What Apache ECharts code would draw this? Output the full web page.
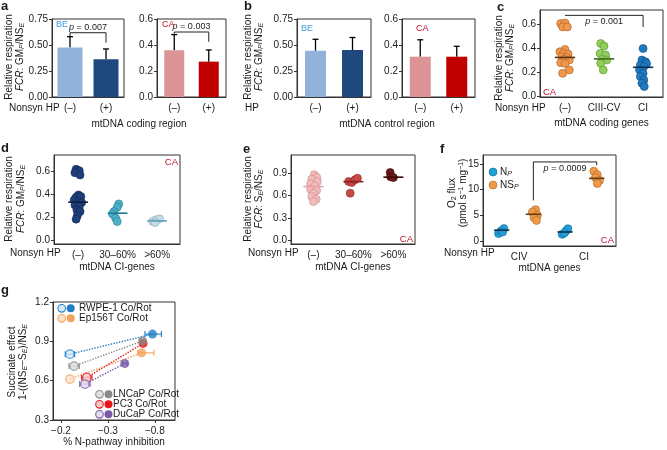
<!DOCTYPE html>
<html>
<head>
<meta charset="utf-8">
<script src="https://cdn.jsdelivr.net/npm/echarts/dist/echarts.min.js"></script>
<style>html,body{margin:0;padding:0;background:#fff}#main{width:667px;height:450px}</style>
</head>
<body>
<div id="main"></div>
<script>
// ---------------- DATA ----------------
// Panel a (mtDNA coding region)
const aCats = ['(–)', '(+)'];
const aBEMean = [0.475, 0.362];
const aBESd = [0.105, 0.10];
const aCAMean = [0.36, 0.272];
const aCASd = [0.12, 0.09];
const aPBE = '0.007';
const aPCA = '0.003';
// Panel b (mtDNA control region)
const bBEMean = [0.445, 0.452];
const bBESd = [0.11, 0.12];
const bCAMean = [0.31, 0.31];
const bCASd = [0.13, 0.08];
// Panel c
const cCats = ['(–)', 'CIII-CV', 'CI'];
const cNegY = [0.606,0.611,0.578,0.578,0.389,0.37,0.356,0.35,0.328,0.322,0.306,0.3,0.278,0.272,0.217,0.189];
const cNegDx = [-0.11,0,-0.06,0.06,0,-0.13,-0.04,0.08,-0.08,0.04,-0.02,0.11,-0.11,0,0.11,-0.06];
const cMidY = [0.439,0.417,0.356,0.342,0.306,0.3,0.272,0.217];
const cMidDx = [-0.085,0,-0.1,0.04,-0.04,0.07,-0.085,-0.02];
const cCIY = [0.397,0.3,0.286,0.258,0.27,0.245,0.217,0.189,0.161,0.133,0.106,0.078];
const cCIDx = [0,-0.03,0.06,-0.07,0.09,0.02,-0.09,0,-0.07,0.02,-0.03,0.03];
const cMedians = [0.322, 0.31, 0.239];
const cP = '0.001';
// Panel d
const dCats = ['(–)', '30–60%', '>60%'];
const dNegY = [0.615,0.603,0.585,0.565,0.391,0.371,0.377,0.348,0.333,0.325,0.304,0.29,0.26,0.246,0.209,0.18];
const dNegDx = [-0.05,0.03,-0.08,0.05,0.01,-0.05,0.07,-0.1,0.01,0.09,-0.08,0.03,-0.03,0.05,-0.02,-0.05];
const dMidY = [0.313,0.284,0.246,0.226,0.189,0.159];
const dMidDx = [0.03,-0.01,-0.09,-0.13,-0.05,-0.01];
const dHiY = [0.159,0.174,0.183,0.15];
const dHiDx = [-0.11,-0.03,0.06,-0.05];
const dMedians = [0.328, 0.232, 0.165];
// Panel e
const eCats = ['(–)', '30–60%', '>60%'];
const eNegY = [0.876,0.845,0.818,0.787,0.756,0.729,0.684,0.667,0.631,0.587,0.551,0.52];
const eNegDx = [0.02,0.08,-0.04,0.1,-0.07,0.04,-0.07,0.08,0,-0.04,0.07,0];
const eMidY = [0.787,0.773,0.81,0.832,0.632];
const eMidDx = [-0.12,-0.04,0.04,0.1,-0.08];
const eHiY = [0.907,0.85,0.84];
const eHiDx = [-0.08,-0.07,0.0];
const eMedians = [0.72, 0.785, 0.845];
// Panel f
const fLabels = ['CIV', 'CI'];
const fLabelPos = [0.55, 2.6];
const fNpCIV = [1.44,1.95,2.42,1.75];
const fNpCIVDx = [-0.1,-0.02,0.07,0.03];
const fNsCIV = [6.1,5.65,5.0,4.55,4.0];
const fNsCIVDx = [0.07,-0.03,0.13,0.02,0.1];
const fNpCI = [1.3,1.95,2.4,1.56];
const fNpCIDx = [-0.09,0.03,0.09,-0.02];
const fNsCI = [13.6,12.9,12.35,11.8,11.2];
const fNsCIDx = [-0.09,0.02,-0.04,0.09,0.02];
const fMedians = [2.1, 5.2, 1.75, 12.2];
const fP = '0.0009';
// Panel g
const gLines = ['RWPE-1', 'Ep156T', 'LNCaP', 'PC3', 'DuCaP'];
const gOpenX = [1.19, 1.19, 1.28, 1.55, 1.51];
const gOpenY = [0.802, 0.612, 0.711, 0.625, 0.574];
const gOpenErr = [0.10, 0, 0.11, 0.11, 0.11];
const gFillX = [2.95, 2.72, 2.74, 2.75, 2.36];
const gFillY = [0.955, 0.812, 0.903, 0.884, 0.731];
const gFillErrLo = [0.16, 0.08, 0.05, 0.05, 0.05];
const gFillErrHi = [0.19, 0.26, 0.05, 0.05, 0.05];
const gXTicks = [1, 2, 3];
const gXLabels = ['−0.2', '−0.3', '−0.8'];

// ---------------- STYLE ----------------
const FONT = "'Liberation Sans', Arial, sans-serif";
const AX = '#333';
const TXT = '#1a1a1a';
const BE_COL = ['#91b3da', '#1f497d'];
const CA_COL = ['#dc9496', '#c00000'];
const CA_RED = '#c0142a';
const BE_BLUE = '#3d9ad6';
const G_COL = ['#1f7fc8', '#f4a25a', '#8a8a8a', '#e8161c', '#7a5aa6'];
const G_TINT = ['#d8e9f6', '#fbe2cc', '#e0e0e0', '#f9cccc', '#e3dbee'];

const RICH = {
  i: {fontStyle: 'italic', fontSize: 10, fontFamily: FONT, fill: TXT, color: TXT},
  ip: {fontStyle: 'italic', fontSize: 9, fontFamily: FONT, fill: TXT, color: TXT},
  s: {fontStyle: 'italic', fontSize: 7, fontFamily: FONT, verticalAlign: 'bottom', lineHeight: 6, fill: TXT, color: TXT},
  s2: {fontSize: 7, fontFamily: FONT, verticalAlign: 'bottom', lineHeight: 6, fill: TXT, color: TXT},
  sup: {fontSize: 7, fontFamily: FONT, verticalAlign: 'top', lineHeight: 6, fill: TXT, color: TXT}
};

function T(x, y, text, o) {
  return {type: 'text', x: x, y: y, rotation: (o && o.rot) || 0, z: 50,
    style: {text: text, fontSize: (o && o.size) || 10, fontFamily: FONT,
      fontWeight: (o && o.bold) ? 'bold' : 'normal',
      fill: (o && o.color) || TXT, align: (o && o.align) || 'left',
      verticalAlign: (o && o.va) || 'middle', lineHeight: (o && o.lh) || 12, rich: RICH}};
}

function errBar(params, api) {
  const x = api.value(0), y = api.value(1), e = api.value(2);
  const p0 = api.coord([x, y]), p1 = api.coord([x, y + e]);
  const st = {stroke: '#000', lineWidth: 1.3};
  return {type: 'group', children: [
    {type: 'line', shape: {x1: p0[0], y1: p0[1], x2: p1[0], y2: p1[1]}, style: st},
    {type: 'line', shape: {x1: p1[0] - 3, y1: p1[1], x2: p1[0] + 3, y2: p1[1]}, style: st}
  ]};
}
function bracket(txt, below) {
  return function (params, api) {
    const x1 = api.value(0), x2 = api.value(1), yt = api.value(2), yl = api.value(3), yr = api.value(4);
    const a = api.coord([x1, yl]), b = api.coord([x1, yt]), c = api.coord([x2, yt]), d = api.coord([x2, yr]);
    return {type: 'group', children: [
      {type: 'polyline', shape: {points: [a, b, c, d]}, style: {stroke: '#222', lineWidth: 1, fill: 'none'}},
      {type: 'text', x: (b[0] + c[0]) / 2, y: below ? b[1] + 2 : b[1] - 1,
        style: {text: '{ip|p} = ' + txt, rich: RICH, fontSize: 9, fontFamily: FONT, fill: TXT,
          align: 'center', verticalAlign: below ? 'top' : 'bottom'}}
    ]};
  };
}
function medRender(hw, colors) {
  return function (params, api) {
    const x = api.value(0), y = api.value(1);
    const a = api.coord([x - hw, y]), b = api.coord([x + hw, y]);
    return {type: 'line', shape: {x1: a[0], y1: a[1], x2: b[0], y2: b[1]},
      style: {stroke: colors[params.dataIndex], lineWidth: 1.6}};
  };
}
function gErr(params, api) {
  const x = api.value(0), y = api.value(1), lo = api.value(2), hi = api.value(3);
  if (lo === 0 && hi === 0) return null;
  const a = api.coord([x - lo, y]), b = api.coord([x + hi, y]);
  const col = G_COL[api.value(4)];
  const st = {stroke: col, lineWidth: 1.1};
  return {type: 'group', children: [
    {type: 'line', shape: {x1: a[0], y1: a[1], x2: b[0], y2: b[1]}, style: st},
    {type: 'line', shape: {x1: a[0], y1: a[1] - 3, x2: a[0], y2: a[1] + 3}, style: st},
    {type: 'line', shape: {x1: b[0], y1: b[1] - 3, x2: b[0], y2: b[1] + 3}, style: st}
  ]};
}

// ---------------- LAYOUT ----------------
const GRIDS = [
  {left: 52, top: 19, width: 72, height: 78},
  {left: 157, top: 19, width: 69, height: 78},
  {left: 297, top: 19, width: 74, height: 78},
  {left: 402, top: 19, width: 73, height: 78},
  {left: 540, top: 10, width: 123, height: 87},
  {left: 54, top: 155, width: 126, height: 89},
  {left: 291, top: 155, width: 124, height: 89},
  {left: 483, top: 155, width: 133, height: 91},
  {left: 53, top: 302, width: 122, height: 118}
].map(g => Object.assign({show: true, borderColor: AX, borderWidth: 1, backgroundColor: 'transparent', containLabel: false}, g));

const lbl = {fontSize: 10, fontFamily: FONT, color: TXT};
function catX(gi) {
  return {gridIndex: gi, type: 'category', data: aCats, axisLine: {lineStyle: {color: AX}},
    axisTick: {show: false}, axisLabel: Object.assign({margin: 6}, lbl), splitLine: {show: false}};
}
function valX(gi, min, max, ticks, fmt, showTick) {
  return {gridIndex: gi, type: 'value', min: min, max: max, axisLine: {show: true, onZero: false, lineStyle: {color: AX}},
    axisTick: {show: !!showTick, length: 3, customValues: ticks, lineStyle: {color: AX}},
    axisLabel: Object.assign({margin: 6, customValues: ticks, formatter: fmt}, lbl), splitLine: {show: false}};
}
function valY(gi, min, max, ticks, dec, interval) {
  const o = {gridIndex: gi, type: 'value', min: min, max: max,
    axisLine: {show: true, onZero: false, lineStyle: {color: AX}},
    axisTick: {show: true, length: 3, lineStyle: {color: AX}},
    axisLabel: Object.assign({margin: 4, formatter: v => Number(v).toFixed(dec)}, lbl), splitLine: {show: false}};
  if (interval) { o.interval = interval; }
  else { o.axisTick.customValues = ticks; o.axisLabel.customValues = ticks; }
  return o;
}
function nearestLabel(v, pos, labels) {
  let bi = 0;
  pos.forEach((p, i) => { if (Math.abs(p - v) < Math.abs(pos[bi] - v)) bi = i; });
  return labels[bi];
}

const xAxis = [
  catX(0), catX(1), catX(2), catX(3),
  valX(4, -0.64, 2.51, [0, 1, 2], v => nearestLabel(v, [0, 1, 2], cCats)),
  valX(5, -0.61, 2.58, [0, 1, 2], v => nearestLabel(v, [0, 1, 2], dCats)),
  valX(6, -0.56, 2.54, [0, 1, 2], v => nearestLabel(v, [0, 1, 2], eCats)),
  valX(7, -0.59, 3.61, fLabelPos, v => nearestLabel(v, fLabelPos, fLabels)),
  valX(8, 0.83, 3.43, gXTicks, v => nearestLabel(v, gXTicks, gXLabels), true)
];
xAxis[4].name = 'mtDNA coding genes';
xAxis[5].name = 'mtDNA CI-genes';
xAxis[6].name = 'mtDNA CI-genes';
xAxis[7].name = 'mtDNA genes';
xAxis[8].name = '% N-pathway inhibition';
const nameGaps = {4: 21, 5: 18, 6: 18, 7: 16, 8: 17};
Object.keys(nameGaps).forEach(k => {
  xAxis[k].nameLocation = 'middle';
  xAxis[k].nameGap = nameGaps[k];
  xAxis[k].nameTextStyle = {fontSize: 10, fontFamily: FONT, color: TXT, verticalAlign: 'top'};
});

const yAxis = [
  valY(0, 0, 0.75, null, 2, 0.25),
  valY(1, 0, 0.6, null, 1, 0.2),
  valY(2, 0, 0.75, null, 2, 0.25),
  valY(3, 0, 0.6, null, 1, 0.2),
  valY(4, -0.01, 0.72, [0, 0.2, 0.4, 0.6], 1),
  valY(5, -0.037, 0.74, [0, 0.2, 0.4, 0.6], 1),
  valY(6, -0.045, 1.14, [0, 0.3, 0.6, 0.9], 1),
  valY(7, -0.98, 16.75, [0, 5, 10, 15], 0),
  valY(8, 0.3, 1.2, null, 1, 0.3)
];

// ---------------- SERIES ----------------
const series = [];
function barPanel(gi, means, sds, cols, bw) {
  series.push({type: 'bar', xAxisIndex: gi, yAxisIndex: gi, barWidth: bw, z: 2,
    data: means.map((v, i) => ({value: v, itemStyle: {color: cols[i]}}))});
  series.push({type: 'custom', xAxisIndex: gi, yAxisIndex: gi, renderItem: errBar, z: 1,
    encode: {x: 0, y: 1}, data: means.map((m, i) => [i, m, sds[i]])});
}
barPanel(0, aBEMean, aBESd, BE_COL, 25);
barPanel(1, aCAMean, aCASd, CA_COL, 20);
barPanel(2, bBEMean, bBESd, BE_COL, 21);
barPanel(3, bCAMean, bCASd, CA_COL, 21);
series.push({type: 'custom', xAxisIndex: 0, yAxisIndex: 0, renderItem: bracket(aPBE, false), z: 5,
  encode: {x: [0, 1], y: [2, 3, 4]}, data: [[0, 1, 0.618, 0.58, 0.522]]});
series.push({type: 'custom', xAxisIndex: 1, yAxisIndex: 1, renderItem: bracket(aPCA, false), z: 5,
  encode: {x: [0, 1], y: [2, 3, 4]}, data: [[0, 1, 0.5, 0.485, 0.425]]});

function dots(gi, cat, ys, dxs, col, border, size) {
  series.push({type: 'scatter', xAxisIndex: gi, yAxisIndex: gi, symbolSize: size || 8, z: 3,
    itemStyle: {color: col, borderColor: border, borderWidth: 0.6, opacity: 1},
    data: ys.map((y, i) => [cat + dxs[i], y])});
}
function medians(gi, xs, meds, hw, cols) {
  series.push({type: 'custom', xAxisIndex: gi, yAxisIndex: gi, renderItem: medRender(hw, cols), z: 4,
    encode: {x: 0, y: 1}, data: meds.map((m, i) => [xs[i], m])});
}
// c
dots(4, 0, cNegY, cNegDx, '#f0974a', '#a8602a');
dots(4, 1, cMidY, cMidDx, '#8fcf5a', '#5a8f30');
dots(4, 2, cCIY, cCIDx, '#1f7bc2', '#124a80');
medians(4, [0, 1, 2], cMedians, 0.26, ['#5a3210', '#3d6b1c', '#0d2e50']);
series.push({type: 'custom', xAxisIndex: 4, yAxisIndex: 4, renderItem: bracket(cP, true), z: 5,
  encode: {x: [0, 1], y: [2, 3, 4]}, data: [[0, 2, 0.675, 0.675, 0.578]]});
// d
dots(5, 0, dNegY, dNegDx, '#1f3f7a', '#0f2550');
dots(5, 1, dMidY, dMidDx, '#4bb0c8', '#2a7a90');
dots(5, 2, dHiY, dHiDx, '#c5dce5', '#8aa8b5');
medians(5, [0, 1, 2], dMedians, 0.25, ['#0c1f45', '#1f7a90', '#5a9fb5']);
// e
dots(6, 0, eNegY, eNegDx, '#f2bcbc', '#c88a8a');
dots(6, 1, eMidY, eMidDx, '#c84848', '#8a2a2a');
dots(6, 2, eHiY, eHiDx, '#6a1a1a', '#3a0a0a');
medians(6, [0, 1, 2], eMedians, 0.25, ['#eaa0a0', '#8a2020', '#3a0808']);
// f
dots(7, 0, fNpCIV, fNpCIVDx, '#1f9fd8', '#156a95');
dots(7, 1, fNsCIV, fNsCIVDx, '#f09a48', '#a86428');
dots(7, 2, fNpCI, fNpCIDx, '#1f9fd8', '#156a95');
dots(7, 3, fNsCI, fNsCIDx, '#f09a48', '#a86428');
medians(7, [0, 1, 2, 3], fMedians, 0.24, ['#0d3050', '#6b3a10', '#0d3050', '#6b3a10']);
series.push({type: 'custom', xAxisIndex: 7, yAxisIndex: 7, renderItem: bracket(fP, true), z: 5,
  encode: {x: [0, 1], y: [2, 3, 4]}, data: [[1, 3, 15.4, 7.9, 14.75]]});
// g
gLines.forEach((n, i) => {
  series.push({type: 'line', xAxisIndex: 8, yAxisIndex: 8, symbol: 'none', z: 1, silent: true,
    lineStyle: {type: 'dotted', width: 1.4, color: G_COL[i]},
    data: [[gOpenX[i], gOpenY[i]], [gFillX[i], gFillY[i]]]});
});
series.push({type: 'custom', xAxisIndex: 8, yAxisIndex: 8, renderItem: gErr, z: 2, encode: {x: 0, y: 1},
  data: gLines.map((n, i) => [gOpenX[i], gOpenY[i], gOpenErr[i], gOpenErr[i], i])
    .concat(gLines.map((n, i) => [gFillX[i], gFillY[i], gFillErrLo[i], gFillErrHi[i], i]))});
series.push({type: 'scatter', xAxisIndex: 8, yAxisIndex: 8, symbolSize: 8.5, z: 3,
  data: gLines.map((n, i) => ({value: [gOpenX[i], gOpenY[i]],
    itemStyle: {color: G_TINT[i], borderColor: G_COL[i], borderWidth: 1.2}}))});
series.push({type: 'scatter', xAxisIndex: 8, yAxisIndex: 8, symbolSize: 9, z: 3,
  data: [0, 1, 3, 4, 2].map(i => ({value: [gFillX[i], gFillY[i]], itemStyle: {color: G_COL[i]}}))});

// ---------------- TEXT / GRAPHIC ----------------
const R = Math.PI / 2;
const graphic = [
  T(1, 0, 'a', {bold: true, size: 13, va: 'top'}),
  T(244, 0, 'b', {bold: true, size: 13, va: 'top'}),
  T(497, 1, 'c', {bold: true, size: 13, va: 'top'}),
  T(1, 142, 'd', {bold: true, size: 13, va: 'top'}),
  T(243, 143, 'e', {bold: true, size: 13, va: 'top'}),
  T(440, 143, 'f', {bold: true, size: 13, va: 'top'}),
  T(1, 284, 'g', {bold: true, size: 13, va: 'top'}),
  // y names
  T(14.5, 57, 'Relative respiration\n{i|FCR}: GM{s|P}/NS{s|E}', {rot: R, align: 'center', lh: 11.5}),
  T(253.5, 57, 'Relative respiration\n{i|FCR}: GM{s|P}/NS{s|E}', {rot: R, align: 'center', lh: 11.5}),
  T(504.5, 58, 'Relative respiration\n{i|FCR}: GM{s|P}/NS{s|E}', {rot: R, align: 'center', lh: 11.5}),
  T(15, 199, 'Relative respiration\n{i|FCR}: GM{s|P}/NS{s|E}', {rot: R, align: 'center', lh: 11.5}),
  T(253.5, 199, 'Relative respiration\n{i|FCR}: S{s|E}/NS{s|E}', {rot: R, align: 'center', lh: 11.5}),
  T(457.5, 193, 'O{s2|2} flux\n(pmol s{sup|−1} mg{sup|−1})', {rot: R, align: 'center', lh: 11}),
  T(17.5, 362, 'Succinate effect\n1-((NS{s|E}−S{s|E})/NS{s|E}', {rot: R, align: 'center', lh: 11}),
  // x side labels
  T(9, 108, 'Nonsyn HP'),
  T(245, 108, 'HP'),
  T(495, 108, 'Nonsyn HP'),
  T(10, 253, 'Nonsyn HP'),
  T(248, 253, 'Nonsyn HP'),
  T(444, 253, 'Nonsyn HP'),
  T(139, 124, 'mtDNA coding region', {align: 'center'}),
  T(387, 124, 'mtDNA control region', {align: 'center'}),
  // group tags
  T(56, 25, 'BE', {color: BE_BLUE, size: 9}),
  T(162, 25, 'CA', {color: CA_RED, size: 9}),
  T(301, 29, 'BE', {color: BE_BLUE, size: 9}),
  T(416, 29, 'CA', {color: CA_RED, size: 9}),
  T(543, 92, 'CA', {color: CA_RED, size: 9.5}),
  T(178, 162, 'CA', {color: CA_RED, align: 'right', size: 9.5}),
  T(413, 239, 'CA', {color: CA_RED, align: 'right', size: 9.5}),
  T(614, 240, 'CA', {color: CA_RED, align: 'right', size: 9.5}),
  // f legend
  {type: 'circle', z: 50, shape: {cx: 493, cy: 172, r: 4}, style: {fill: '#1f9fd8', stroke: '#156a95', lineWidth: 0.6}},
  {type: 'circle', z: 50, shape: {cx: 493, cy: 185, r: 4}, style: {fill: '#f09a48', stroke: '#a86428', lineWidth: 0.6}},
  T(500, 172, 'N{s|P}'),
  T(500, 185, 'NS{s|P}')
];
// g legend
[[0, 61.7, 308.3, 79], [1, 61.7, 318.3, 79], [2, 99.5, 394.3, 113], [3, 99.5, 404.3, 113], [4, 99.5, 414.3, 113]].forEach(r => {
  const i = r[0];
  graphic.push({type: 'circle', z: 50, shape: {cx: r[1], cy: r[2], r: 3.8}, style: {fill: G_TINT[i], stroke: G_COL[i], lineWidth: 1.1}});
  graphic.push({type: 'circle', z: 50, shape: {cx: r[1] + 9, cy: r[2], r: 4}, style: {fill: G_COL[i]}});
  graphic.push(T(r[3], r[2], gLines[i] + ' Co/Rot'));
});

const chart = echarts.init(document.getElementById('main'), null, {renderer: 'canvas'});
chart.setOption({
  animation: false,
  backgroundColor: '#fff',
  textStyle: {fontFamily: FONT},
  grid: GRIDS,
  xAxis: xAxis,
  yAxis: yAxis,
  series: series,
  graphic: graphic
});
</script>
</body>
</html>
